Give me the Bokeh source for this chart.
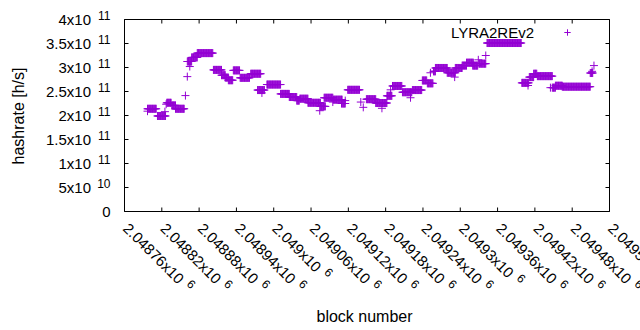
from math import pi, sqrt
from bokeh.plotting import figure
from bokeh.models import Range1d, Label, Legend, LegendItem, ColumnDataSource
from bokeh.embed import file_html
from bokeh.resources import INLINE

# ---- data ----
# runs of consecutive blocks that share the same hashrate estimate
run_start = [2048797, 2048813, 2048828, 2048836, 2048842, 2048861, 2048868, 2048877,
             2048903, 2048916, 2048922, 2048927, 2048935, 2048946, 2048963, 2048974,
             2048989, 2049011, 2049025, 2049037, 2049042, 2049055, 2049075, 2049081,
             2049096, 2049109, 2049119, 2049149, 2049164, 2049182, 2049191, 2049207,
             2049223, 2049239, 2049247, 2049257, 2049260, 2049279, 2049292, 2049303,
             2049310, 2049320, 2049330, 2049343, 2049399, 2049411, 2049418, 2049424,
             2049448, 2049453, 2049464, 2049509]
run_end = [2048811, 2048826, 2048835, 2048842, 2048856, 2048868, 2048877, 2048902,
           2048916, 2048922, 2048927, 2048934, 2048945, 2048961, 2048979, 2048985,
           2049011, 2049025, 2049037, 2049041, 2049055, 2049075, 2049083, 2049095,
           2049110, 2049115, 2049138, 2049164, 2049182, 2049190, 2049206, 2049222,
           2049238, 2049246, 2049256, 2049260, 2049279, 2049292, 2049303, 2049310,
           2049321, 2049328, 2049341, 2049398, 2049410, 2049418, 2049423, 2049448,
           2049453, 2049464, 2049509, 2049513]
run_value = [2.14e11, 1.99e11, 2.265e11, 2.21e11, 2.14e11, 3.125e11, 3.21e11, 3.30e11,
             2.95e11, 2.84e11, 2.79e11, 2.735e11, 2.94e11, 2.785e11, 2.87e11, 2.53e11,
             2.645e11, 2.45e11, 2.385e11, 2.31e11, 2.35e11, 2.265e11, 2.19e11, 2.37e11,
             2.33e11, 2.25e11, 2.535e11, 2.34e11, 2.26e11, 2.41e11, 2.615e11, 2.485e11,
             2.53e11, 2.73e11, 2.67e11, 2.92e11, 2.99e11, 2.89e11, 2.99e11, 3.04e11,
             3.10e11, 3.04e11, 3.08e11, 3.51e11, 2.68e11, 2.80e11, 2.87e11, 2.82e11,
             2.58e11, 2.62e11, 2.60e11, 2.885e11]
# isolated blocks
pt_block = [2048797, 2048825, 2048827, 2048858, 2048861, 2048865, 2048981, 2049074,
            2049095, 2049115, 2049140, 2049144, 2049174, 2049188, 2049220, 2049252,
            2049291, 2049329, 2049341, 2049409, 2049445, 2049512, 2049515]
pt_value = [2.09e11, 2.08e11, 2.235e11, 2.415e11, 2.81e11, 3.02e11, 2.47e11, 2.10e11,
            2.28e11, 2.31e11, 2.28e11, 2.17e11, 2.15e11, 2.535e11, 2.37e11, 2.89e11,
            2.80e11, 3.16e11, 3.25e11, 2.625e11, 2.58e11, 2.92e11, 3.04e11]

series_name = "LYRA2REv2"
x_ticks = [2048760, 2048820, 2048880, 2048940, 2049000, 2049060, 2049120,
           2049180, 2049240, 2049300, 2049360, 2049420, 2049480, 2049540]
x_tick_base = ["2.04876x10", "2.04882x10", "2.04888x10", "2.04894x10", "2.049x10",
               "2.04906x10", "2.04912x10", "2.04918x10", "2.04924x10", "2.0493x10",
               "2.04936x10", "2.04942x10", "2.04948x10", "2.04954x10"]
x_tick_exp = ["6"] * 14
y_ticks = [0, 0.5e11, 1e11, 1.5e11, 2e11, 2.5e11, 3e11, 3.5e11, 4e11]
y_tick_base = ["0", "5x10", "1x10", "1.5x10", "2x10", "2.5x10", "3x10", "3.5x10", "4x10"]
y_tick_exp = ["", "10", "11", "11", "11", "11", "11", "11", "11"]

# ---- build points ----
xs, ys = [], []
for b0, b1, v in zip(run_start, run_end, run_value):
    for b in range(b0, b1 + 1):
        xs.append(b)
        ys.append(v)
xs += pt_block
ys += pt_value
src = ColumnDataSource(dict(x=xs, y=ys))

# ---- layout: plot box in page pixels; the bokeh frame spans the whole canvas ----
W, H = 640, 330
FL, FR, FT, FB = 124, 609, 19, 211
FONT = "Liberation Sans"
COLOR = "#9400D3"
TICK = 4

ppx = (FR - FL) / (x_ticks[-1] - x_ticks[0])      # pixels per block
ppy = (FB - FT) / (y_ticks[-1] - y_ticks[0])      # pixels per h/s
x_range = Range1d(x_ticks[0] - FL / ppx, x_ticks[-1] + (W - FR) / ppx)
y_range = Range1d(y_ticks[0] - (H - FB) / ppy, y_ticks[-1] + FT / ppy)

def sx(px):
    return px

def sy(py):
    return H - py

p = figure(width=W, height=H, output_backend="svg", toolbar_location=None,
           x_range=x_range, y_range=y_range, min_border=0,
           x_axis_location=None, y_axis_location=None)
p.background_fill_color = "white"
p.border_fill_color = "white"
p.outline_line_color = None
p.xgrid.visible = False
p.ygrid.visible = False

x0, x1 = x_ticks[0], x_ticks[-1]
y0, y1 = y_ticks[0], y_ticks[-1]
# plot border
p.quad(left=[x0], right=[x1], bottom=[y0], top=[y1], fill_color=None,
       line_color="black", line_width=1)
# inward ticks on all four sides (gnuplot mirror ticks)
tx = TICK / ppx
ty = TICK / ppy
p.segment(x0=x_ticks, x1=x_ticks, y0=[y0] * len(x_ticks), y1=[y0 + ty] * len(x_ticks),
          line_color="black", line_width=1)
p.segment(x0=x_ticks, x1=x_ticks, y0=[y1] * len(x_ticks), y1=[y1 - ty] * len(x_ticks),
          line_color="black", line_width=1)
p.segment(x0=[x0] * len(y_ticks), x1=[x0 + tx] * len(y_ticks), y0=y_ticks, y1=y_ticks,
          line_color="black", line_width=1)
p.segment(x0=[x1] * len(y_ticks), x1=[x1 - tx] * len(y_ticks), y0=y_ticks, y1=y_ticks,
          line_color="black", line_width=1)

r = p.scatter(x="x", y="y", source=src, marker="cross", size=8,
              line_color=COLOR, line_width=1)

# legend sample (gnuplot puts the key text left of the sample)
leg = Legend(items=[LegendItem(label=" ", renderers=[r])],
             location=(559, 289), padding=0, margin=0, spacing=0,
             border_line_color=None, background_fill_alpha=0,
             glyph_width=16, glyph_height=18, label_height=18, label_width=1,
             label_standoff=0, label_text_font=FONT, label_text_font_size="15px")
p.add_layout(leg)
p.add_layout(Label(x=sx(533.5), y=sy(32), x_units="screen", y_units="screen",
                   text=series_name, text_align="right", text_baseline="middle",
                   text_font=FONT, text_font_size="15px", text_color="black"))

# ---- tick labels (gnuplot style, with exponents) ----
CW = {c: 0.556 for c in "0123456789"}
CW["."] = 0.278
CW["x"] = 0.5

def twidth(s, size):
    return sum(CW.get(c, 0.556) for c in s) * size

for t, b, e in zip(y_ticks, y_tick_base, y_tick_exp):
    if e:
        p.add_layout(Label(x=sx(90.5), y=t, x_units="screen", y_units="data", text=b,
                           text_align="right", text_baseline="middle",
                           text_font=FONT, text_font_size="15px", text_color="black"))
        p.add_layout(Label(x=sx(110), y=t, x_units="screen", y_units="data", text=e,
                           y_offset=4, text_align="right", text_baseline="middle",
                           text_font=FONT, text_font_size="12px", text_color="black"))
    else:
        p.add_layout(Label(x=sx(110), y=t, x_units="screen", y_units="data", text=b,
                           text_align="right", text_baseline="middle",
                           text_font=FONT, text_font_size="15px", text_color="black"))

c45 = sqrt(0.5)
for t, b, e in zip(x_ticks, x_tick_base, x_tick_exp):
    p.add_layout(Label(x=t, y=sy(225), x_units="data", y_units="screen", text=b,
                       x_offset=1.5, angle=-pi / 4, text_align="left", text_baseline="middle",
                       text_font=FONT, text_font_size="15px", text_color="black"))
    d = twidth(b, 15) + 6
    rz = 5
    p.add_layout(Label(x=t, y=sy(225), x_units="data", y_units="screen", text=e,
                       x_offset=1.5 + c45 * (d + rz), y_offset=-c45 * (d - rz),
                       angle=-pi / 4, text_align="left", text_baseline="middle",
                       text_font=FONT, text_font_size="12px", text_color="black"))

# ---- axis titles ----
p.add_layout(Label(x=sx(17.5), y=sy(115.5), x_units="screen", y_units="screen",
                   text="hashrate [h/s]", angle=pi / 2, text_align="center",
                   text_baseline="middle", text_font=FONT, text_font_size="16px",
                   text_color="black"))
p.add_layout(Label(x=sx(364), y=sy(315.5), x_units="screen", y_units="screen",
                   text="block number", text_align="center", text_baseline="middle",
                   text_font=FONT, text_font_size="16px", text_color="black"))

open("out.html", "w").write(file_html(p, INLINE))
